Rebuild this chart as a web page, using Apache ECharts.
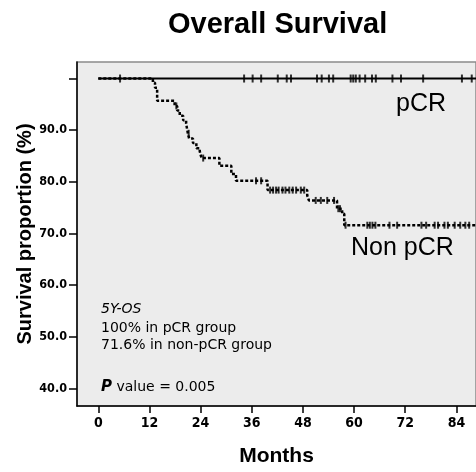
<!DOCTYPE html>
<html>
<head>
<meta charset="utf-8">
<script src="https://cdn.jsdelivr.net/npm/echarts@6/dist/echarts.min.js"></script>
<style>
html,body{margin:0;padding:0;background:#fff;}
#chart{width:476px;height:472px;}
</style>
</head>
<body>
<div id="chart"></div>
<script>
// ---- data ----
const monthTicks = [0, 12, 24, 36, 48, 60, 72, 84];
const survivalTicks = [40, 50, 60, 70, 80, 90, 100];
const survivalLabels = [40, 50, 60, 70, 80, 90];

// pCR group: no events
const pcrCurve = [[0, 100], [92, 100]];
const pcrCensored = [5.1, 34.2, 36.2, 38.2, 42.1, 44.2, 45.2, 51.3, 52.4, 54.1, 55.1,
  59.2, 59.8, 60.4, 61.3, 62.6, 64.2, 65.1, 69.0, 71.0, 76.2, 85.3, 87.6];

// non-pCR group: Kaplan-Meier steps [month, survival %]
const nonPcrCurve = [[0, 100], [12.8, 99.2], [13.3, 98.2], [13.8, 95.7], [17.9, 94.7],
  [18.5, 93.8], [19.1, 92.8], [19.9, 91.9], [20.6, 91.3], [21.0, 89.4], [21.3, 88.4],
  [22.2, 87.5], [23.0, 86.5], [23.8, 85.9], [24.2, 84.6], [28.4, 83.1], [31.2, 81.5],
  [32.3, 80.2], [39.7, 78.4], [49.0, 77.4], [49.4, 76.4], [56.0, 74.8], [57.2, 73.8],
  [57.7, 71.6], [92, 71.6]];
const nonPcrCensored = [18.3, 21.2, 24.6, 37.0, 38.2, 40.3, 41.0, 41.7, 42.3, 43.2, 43.9,
  44.8, 45.6, 46.4, 47.5, 48.3, 51.0, 52.2, 53.7, 55.3, 56.3, 56.7, 58.0, 63.1, 63.7,
  64.3, 65.0, 68.3, 70.1, 75.8, 76.9, 78.9, 79.7, 81.2, 82.0, 83.6, 84.9, 86.1, 87.0];

const annotationLines = ['5Y-OS', '100% in pCR group', '71.6% in non-pCR group'];
const pValueText = '0.005';

function levelAt(curve, t) {
  let v = curve[0][1];
  for (const p of curve) { if (p[0] <= t) v = p[1]; }
  return v;
}

const chart = echarts.init(document.getElementById('chart'), null, {renderer: 'canvas'});
const tickFont = "'Liberation Sans Narrow','DejaVu Sans Condensed','Liberation Sans',sans-serif";
const annFont = "'DejaVu Sans',sans-serif";

const option = {
  animation: false,
  backgroundColor: '#ffffff',
  grid: {
    left: 77, top: 62, right: -2, bottom: 59,
    show: true, backgroundColor: '#ececec', borderColor: '#8a8a8a', borderWidth: 1.5
  },
  xAxis: {
    type: 'value', min: -5, max: 88.6,
    name: 'Months', nameLocation: 'middle', nameGap: 40, nameMoveOverlap: false,
    nameTextStyle: {fontFamily: "'Liberation Sans',Arial,sans-serif", fontWeight: 'bold', fontSize: 21, color: '#000'},
    axisLine: {show: true, onZero: false, lineStyle: {color: '#000', width: 1.5}},
    axisTick: {show: true, length: 7, customValues: monthTicks, lineStyle: {color: '#000', width: 1.5}},
    axisLabel: {customValues: monthTicks, margin: 10, fontFamily: tickFont, fontWeight: 'bold', fontSize: 14, color: '#000'},
    splitLine: {show: false}
  },
  yAxis: {
    type: 'value', min: 36.6, max: 103.2,
    name: 'Survival proportion (%)', nameLocation: 'middle', nameGap: 42, nameRotate: 90, nameMoveOverlap: false,
    nameTextStyle: {fontFamily: "'Liberation Sans',Arial,sans-serif", fontWeight: 'bold', fontSize: 20, color: '#000'},
    axisLine: {show: true, onZero: false, lineStyle: {color: '#000', width: 1.5}},
    axisTick: {show: true, length: 8, customValues: survivalTicks, lineStyle: {color: '#000', width: 1.5}},
    axisLabel: {customValues: survivalLabels, margin: 10, fontFamily: tickFont, fontWeight: 'bold', fontSize: 12.5, color: '#000',
      formatter: v => v.toFixed(1)},
    splitLine: {show: false}
  },
  graphic: [
    {type: 'text', left: 168, top: 10, style: {text: 'Overall Survival', font: "bold 29px 'Liberation Sans', Arial, sans-serif", fill: '#000'}},
    {type: 'text', left: 396, top: 92, style: {text: 'pCR', font: "25px 'Liberation Sans', Arial, sans-serif", fill: '#000'}},
    {type: 'text', left: 351, top: 236, style: {text: 'Non pCR', font: "25px 'Liberation Sans', Arial, sans-serif", fill: '#000'}},
    {type: 'text', left: 101, top: 302, style: {text: annotationLines[0], font: "italic 14px " + annFont, fill: '#000'}},
    {type: 'text', left: 101, top: 321, style: {text: annotationLines[1], font: "14px " + annFont, fill: '#000'}},
    {type: 'text', left: 101, top: 338, style: {text: annotationLines[2], font: "14px " + annFont, fill: '#000'}},
    {type: 'text', left: 101, top: 380, style: {
      text: '{i|P} value = ' + pValueText,
      rich: {i: {fontStyle: 'italic', fontFamily: annFont, fontSize: 15, fontWeight: 'bold'}},
      font: "14px " + annFont, fill: '#000'}}
  ],
  series: [
    {
      type: 'line', step: 'end', data: pcrCurve, showSymbol: false, clip: true,
      lineStyle: {color: '#000', width: 2}, z: 2
    },
    {
      type: 'line', step: 'end', data: nonPcrCurve, showSymbol: false, clip: true,
      lineStyle: {color: '#000', width: 2.5, type: [3, 2]}, z: 3
    },
    {
      type: 'scatter', data: pcrCensored.map(t => [t, levelAt(pcrCurve, t)]),
      symbol: 'rect', symbolSize: [2, 8], itemStyle: {color: '#000'}, z: 4
    },
    {
      type: 'scatter', data: nonPcrCensored.map(t => [t, levelAt(nonPcrCurve, t)]),
      symbol: 'rect', symbolSize: [2, 7], itemStyle: {color: '#000'}, z: 4
    }
  ]
};
chart.setOption(option);
</script>
</body>
</html>
